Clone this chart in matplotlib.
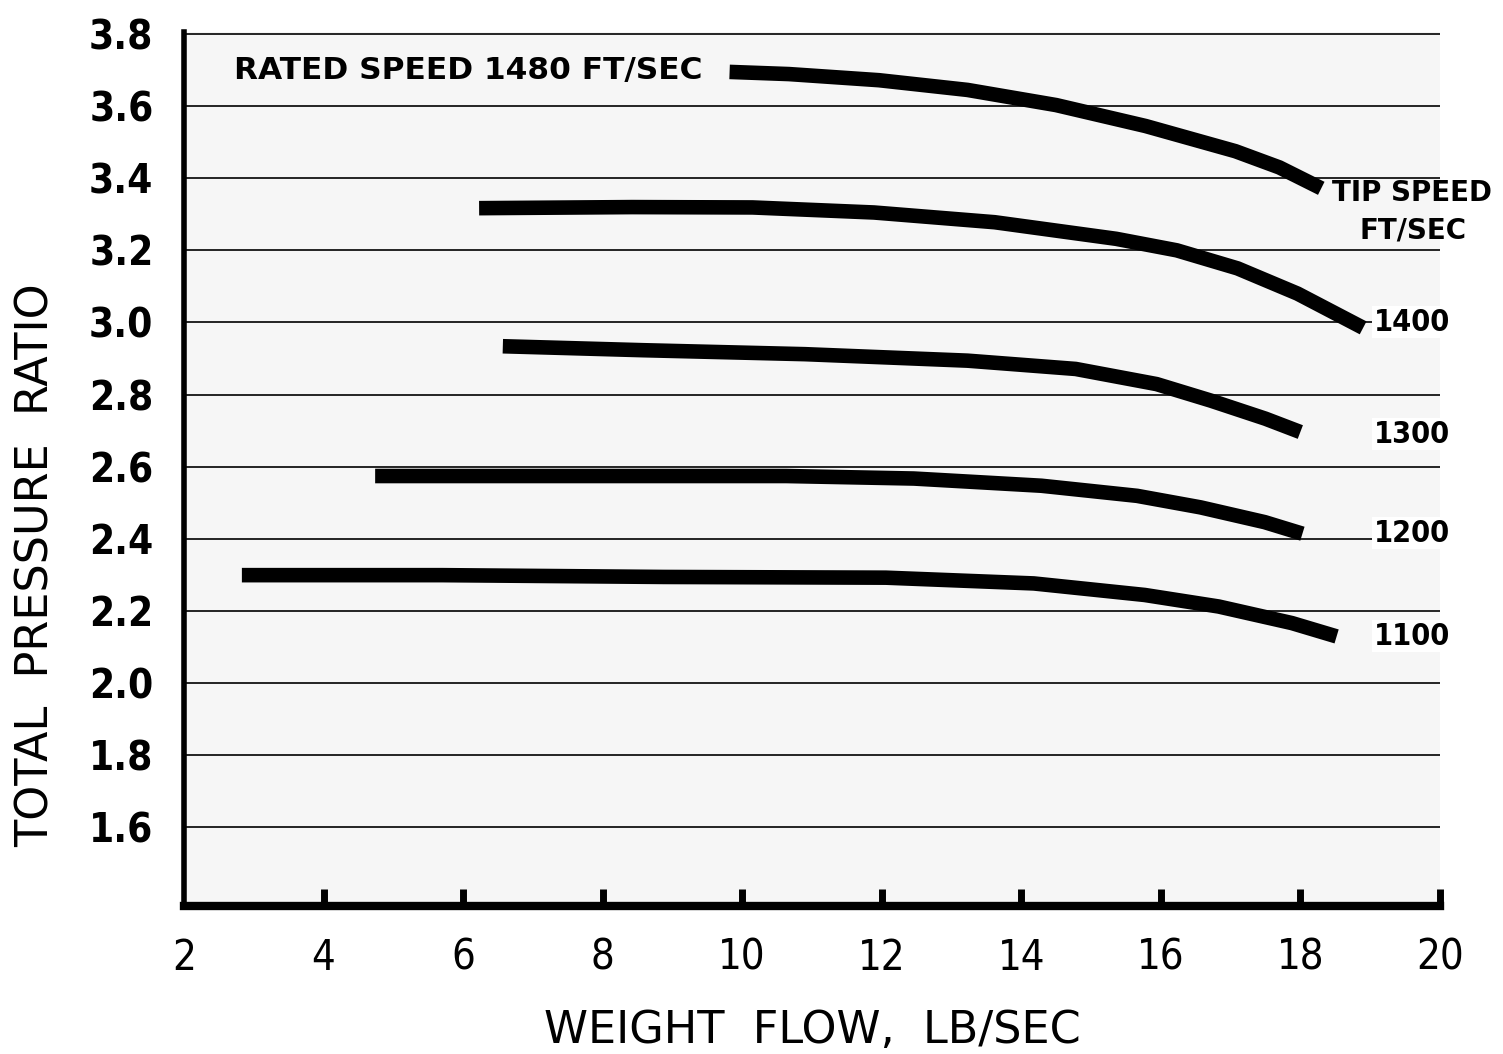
import matplotlib
matplotlib.use("Agg")
import matplotlib.pyplot as plt

# ---- data ----
speed_labels = ["1400", "1300", "1200", "1100"]

flow_1480 = [9.82, 10.67, 11.96, 13.23, 14.5, 15.78, 17.07, 17.7, 18.3]
pr_1480   = [3.695, 3.689, 3.672, 3.645, 3.603, 3.545, 3.475, 3.43, 3.372]

flow_1400 = [6.23, 8.42, 10.15, 11.89, 13.62, 15.36, 16.23, 17.1, 17.96, 18.9]
pr_1400   = [3.317, 3.320, 3.319, 3.305, 3.278, 3.232, 3.20, 3.15, 3.08, 2.985]

flow_1300 = [6.57, 8.58, 10.9, 13.23, 14.78, 15.94, 16.72, 17.5, 18.0]
pr_1300   = [2.934, 2.923, 2.912, 2.894, 2.871, 2.829, 2.783, 2.733, 2.696]

flow_1200 = [4.74, 7.89, 10.63, 12.46, 14.29, 15.66, 16.57, 17.49, 18.03]
pr_1200   = [2.574, 2.574, 2.574, 2.567, 2.547, 2.519, 2.487, 2.446, 2.414]

flow_1100 = [2.83, 5.70, 8.88, 12.06, 14.18, 15.77, 16.83, 17.88, 18.52]
pr_1100   = [2.299, 2.299, 2.294, 2.292, 2.276, 2.244, 2.212, 2.166, 2.129]

x_ticks = [2, 4, 6, 8, 10, 12, 14, 16, 18, 20]
y_ticks = [1.6, 1.8, 2.0, 2.2, 2.4, 2.6, 2.8, 3.0, 3.2, 3.4, 3.6, 3.8]
label_y = [3.0, 2.69, 2.415, 2.13]

fig = plt.figure(figsize=(15.03, 10.54), dpi=100)
ax = fig.add_axes([0.1224, 0.140, 0.8356, 0.8294])
ax.set_facecolor("#f6f6f6")

ax.set_xlim(2, 20)
ax.set_ylim(1.38, 3.805)

lw = 10.5
for fx, py in [(flow_1480, pr_1480), (flow_1400, pr_1400), (flow_1300, pr_1300),
               (flow_1200, pr_1200), (flow_1100, pr_1100)]:
    ax.plot(fx, py, color="black", lw=lw, solid_capstyle="butt",
            solid_joinstyle="round", zorder=3)

# grid lines
for yv in y_ticks:
    ax.axhline(yv, color="black", lw=1.2, zorder=1)

ax.spines["top"].set_visible(False)
ax.spines["right"].set_visible(False)
ax.spines["left"].set_linewidth(4)
ax.spines["bottom"].set_linewidth(6)

ax.set_xticks(x_ticks)
ax.set_xticklabels([str(v) for v in x_ticks])
ax.set_yticks(y_ticks)
ax.set_yticklabels([f"{v:.1f}" for v in y_ticks])

ax.tick_params(axis="x", direction="in", length=12, width=5, pad=22,
               labelsize=30)
ax.tick_params(axis="y", length=0, pad=22, labelsize=29)
for t in ax.get_xticklabels():
    t.set_fontstretch("condensed")
    t.set_fontweight("medium")
for t in ax.get_yticklabels():
    t.set_fontweight("bold")
    t.set_fontstretch("condensed")
ax.xaxis.get_major_ticks()[0].tick1line.set_visible(False)

fig.text(812 / 1503, 1 - 1030 / 1054, "WEIGHT  FLOW,  LB/SEC", fontsize=32,
         ha="center", va="center")
fig.text(36 / 1503, 1 - 565 / 1054, "TOTAL  PRESSURE  RATIO", fontsize=32,
         ha="center", va="center", rotation=90)

ax.text(2.72, 3.70, "RATED SPEED 1480 FT/SEC", fontsize=22.5, fontweight="bold",
        va="center", ha="left", zorder=4)
ax.text(19.6, 3.36, "TIP SPEED", fontsize=20, fontweight="bold",
        va="center", ha="center", clip_on=False)
ax.text(19.62, 3.255, "FT/SEC", fontsize=20, fontweight="bold",
        va="center", ha="center", clip_on=False)
for lab, yv in zip(speed_labels, label_y):
    ax.text(19.6, yv, lab, fontsize=22, fontweight="bold",
            fontstretch="condensed", va="center", ha="center", clip_on=False,
            zorder=4, bbox=dict(facecolor="white", edgecolor="none", pad=1))

fig.savefig("out.png", dpi=100, facecolor="white")
